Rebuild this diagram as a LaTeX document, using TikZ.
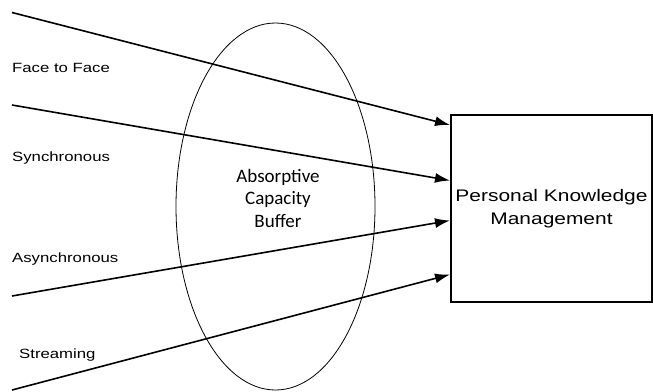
\documentclass[tikz,border=0pt]{standalone}
\usepackage{fontspec}
\setmainfont[FakeStretch=1.25]{Liberation Sans}
\newfontfamily\bufferfont{Carlito}
\usetikzlibrary{shapes.geometric,arrows.meta}

\begin{document}
\begin{tikzpicture}[x=1pt,y=-1pt,
        media/.style={anchor=base west,inner sep=0pt,font=\fontsize{13.4}{16}\selectfont},
        flow/.style={line width=1.6pt,-{Latex[length=15pt,width=10pt]}}]
        \useasboundingbox (0,0) rectangle (653,391);
        % buffer and target box
        \node[draw,ellipse,line width=0.8pt,minimum width=199pt,minimum height=367pt,inner sep=0pt] (buffer) at (275.5,206.5) {};
        \node[align=center,font=\bufferfont\fontsize{19}{22.5}\selectfont] (buffertext) at (278,198) {Absorptive\\Capacity\\Buffer};
        \node[draw,line width=1.2pt,minimum width=201pt,minimum height=187pt,align=center,font=\fontsize{16.75}{23}\selectfont] (pkm) at (551.5,208.5) {Personal Knowledge\\Management};
        % media labels
        \node[media] (f2f) at (12,72.5) {Face to Face};
        \node[media] (sync) at (12,161) {Synchronous};
        \node[media] (async) at (12,262.5) {Asynchronous};
        \node[media] (stream) at (19,358) {Streaming};
        % ends of the arrows
        \coordinate (f2fin) at (12,12.5);
        \coordinate (syncin) at (12,105);
        \coordinate (asyncin) at (12,296);
        \coordinate (streamin) at (12,390);
        \coordinate (f2fout) at (450,125);
        \coordinate (syncout) at (450,180.5);
        \coordinate (asyncout) at (450,220.5);
        \coordinate (streamout) at (450,274.5);
        \draw[flow] (f2fin) -- (f2fout);
        \draw[flow] (syncin) -- (syncout);
        \draw[flow] (asyncin) -- (asyncout);
        \draw[flow] (streamin) -- (streamout);
    \end{tikzpicture}
\end{document}
